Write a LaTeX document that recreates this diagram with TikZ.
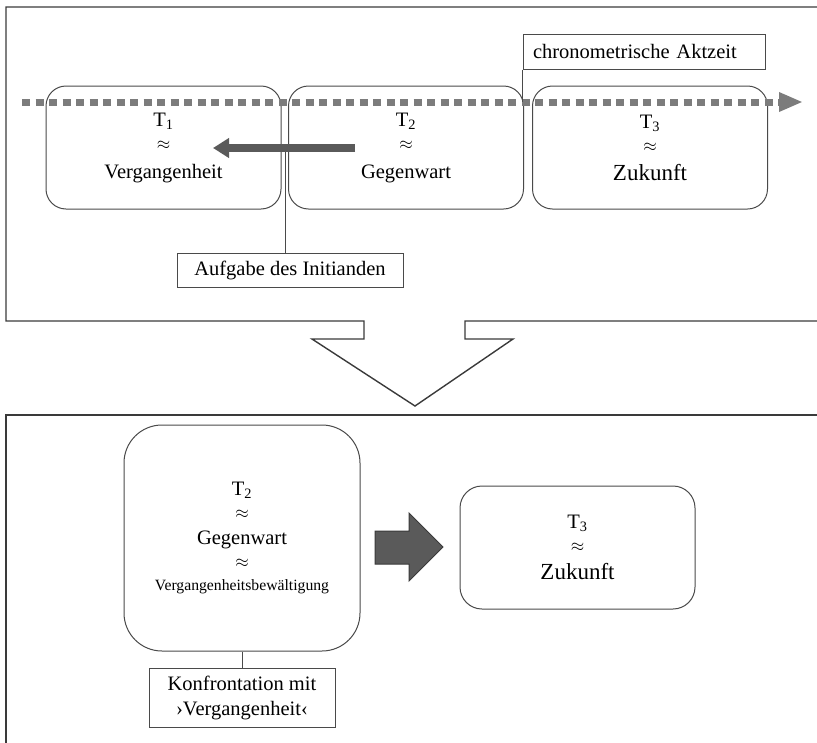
\documentclass[tikz,border=0pt]{standalone}
\usepackage{fontspec}
\setmainfont{Liberation Serif}
\usetikzlibrary{positioning,arrows.meta}
\definecolor{Frame}{HTML}{3A3A3A}
\definecolor{Edge}{HTML}{4A4A4A}
\definecolor{Dots}{HTML}{7C7C7C}
\definecolor{Shade}{HTML}{5A5A5A}

\begin{document}
\begin{tikzpicture}[x=1pt,y=-1pt,
    frame/.style={draw=Frame,line width=1.4pt},
    phase/.style={draw=Edge,line width=1pt,rounded corners=20pt,minimum width=235pt,minimum height=123pt,align=center,inner sep=0pt,font=\fontsize{20.5}{23}\selectfont},
    tag/.style={draw=Edge,line width=1pt,minimum height=34pt,align=center,font=\fontsize{20.5}{25}\selectfont},
    link/.style={draw=Edge,line width=1pt},
    timeline/.style={draw=Dots,line width=7pt,dash pattern=on 8pt off 5.5pt}
  ]
    \useasboundingbox (0,0) rectangle (817,742);
    \draw[frame] (818,7) -- (6,7) -- (6,321) -- (364,321) -- (364,339) -- (312,339) -- (415,406) -- (513,339) -- (465,339) -- (465,321) -- (818,321);
    \draw[frame] (818,415) -- (6,415) -- (6,743);

    \node[phase] (past) at (163.5,147.5) {T\textsubscript{1}\\[0pt]{\fontsize{18}{18}\selectfont$\approx$}\\[6pt]Vergangenheit};
    \node[phase] (present) at (406,147.5) {T\textsubscript{2}\\[0pt]{\fontsize{18}{18}\selectfont$\approx$}\\[6pt]Gegenwart};
    \node[phase] (future) at (650,147.5) {T\textsubscript{3}\\[0pt]{\fontsize{18}{18}\selectfont$\approx$}\\[6pt]{\fontsize{23}{23}\selectfont Zukunft}};

    \coordinate (tlstart) at (22,102);
    \coordinate (tlend) at (803,102);
    \draw[timeline,-{Triangle[length=24pt,width=18pt]}] (tlstart) -- (tlend);

    \node[tag,text width=222pt,inner xsep=10pt,align=left,minimum height=35pt] (clock) at (644,51.5) {chronometrische Aktzeit};
    \draw[link] (clock.south west) -- (clock.south west |- tlstart);

    \node[tag,minimum width=226pt] (task) at (290,270) {Aufgabe des Initianden};
    \coordinate (gap) at (285,148);
    \draw[link] (task.north -| gap) -- (gap);
    \coordinate (backfrom) at (355,148);
    \coordinate (backto) at (213,148);
    \draw[Shade,line width=8pt,-{Triangle[length=16pt,width=19pt]}] (backfrom) -- (backto);

    \node[phase,minimum width=236pt,minimum height=226pt,rounded corners=38pt] (now) at (242,538) {T\textsubscript{2}\\[0pt]{\fontsize{18}{18}\selectfont$\approx$}\\[3pt]Gegenwart\\[0pt]{\fontsize{18}{18}\selectfont$\approx$}\\[0pt]{\fontsize{15.7}{18}\selectfont Vergangenheitsbewältigung}};
    \node[phase,rounded corners=22pt] (later) at (577.5,547.5) {T\textsubscript{3}\\[0pt]{\fontsize{18}{18}\selectfont$\approx$}\\[5pt]{\fontsize{23}{23}\selectfont Zukunft}};
    \filldraw[fill=Shade,draw=Frame,line width=1pt] (375,531) -- (409,531) -- (409,513) -- (443,547) -- (409,581) -- (409,564) -- (375,564) -- cycle;

    \node[tag,minimum width=186pt,minimum height=59pt] (clash) at (242,697.5) {Konfrontation mit\\›Vergangenheit‹};
    \draw[link] (now.south) -- (clash.north);
  \end{tikzpicture}
\end{document}
